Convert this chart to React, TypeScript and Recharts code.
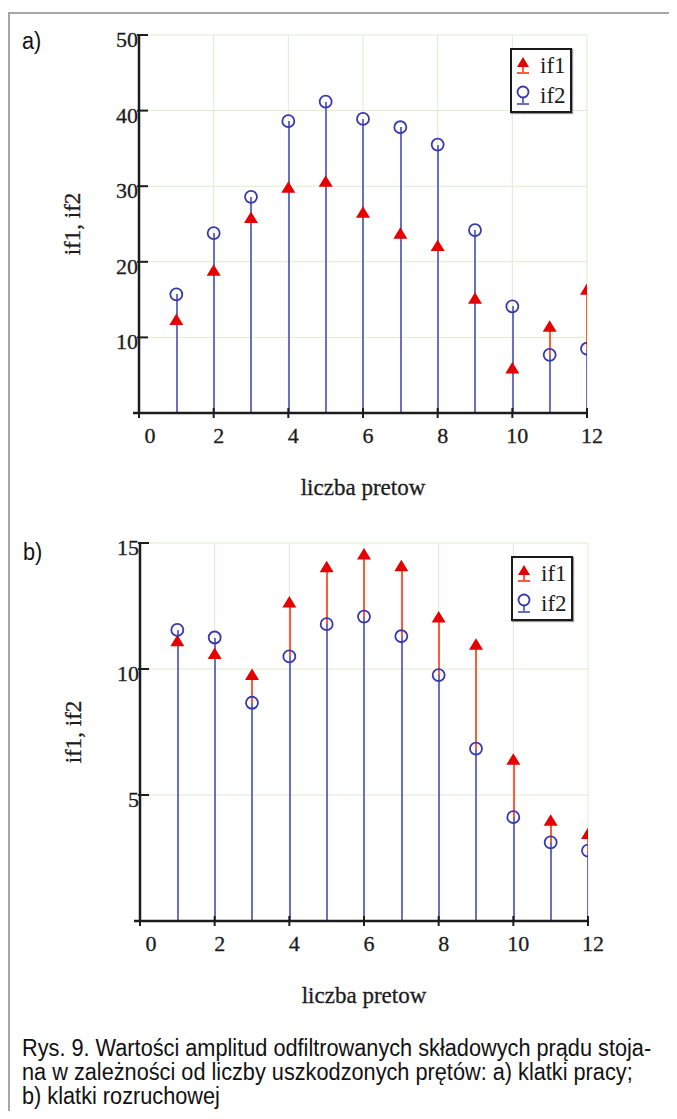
import React from "react";
import {
  ComposedChart,
  Bar,
  Scatter,
  XAxis,
  YAxis,
  CartesianGrid,
  Legend,
  Label,
} from "recharts";

// liczba uszkodzonych pretow
const bars = [1, 2, 3, 4, 5, 6, 7, 8, 9, 10, 11, 12];

// a) klatka pracy
const workIf1 = [12.3, 18.8, 25.8, 29.8, 30.6, 26.5, 23.7, 22.1, 15.1, 5.9, 11.4, 16.3];
const workIf2 = [15.7, 23.8, 28.6, 38.6, 41.2, 38.9, 37.8, 35.5, 24.2, 14.1, 7.7, 8.5];

// b) klatka rozruchowa
const startIf1 = [11.1, 10.6, 9.76, 12.64, 14.04, 14.54, 14.08, 12.04, 10.96, 6.4, 3.98, 3.45];
const startIf2 = [11.55, 11.25, 8.66, 10.5, 11.78, 12.08, 11.3, 9.76, 6.84, 4.12, 3.12, 2.79];

const xTicks = [0, 2, 4, 6, 8, 10, 12];
const workYTicks = [10, 20, 30, 40, 50];
const startYTicks = [5, 10, 15];

const captionLines = [
  "Rys. 9. Wartości amplitud odfiltrowanych składowych prądu stoja-",
  "na w zależności od liczby uszkodzonych prętów: a) klatki pracy;",
  "b) klatki rozruchowej",
];

const toRows = (a: number[], b: number[]) =>
  bars.map((x, i) => ({ x, if1: a[i], if2: b[i] }));

const SERIF = "'Liberation Serif', 'Times New Roman', serif";
const SANS = "'Liberation Sans', Arial, sans-serif";
const INK = "#1c1c1c";
const RED = "#e60000";
const RED_STEM = "#ff5a3c";
const BLUE = "#3838ae";
const BLUE_STEM = "#6b6fc3";
const GRID = "#dcedcf";

function XTick(props: any) {
  const { x, y, payload } = props;
  const v = payload.value;
  return (
    <g>
      <line x1={x} x2={x} y1={y - 5} y2={y + 5} stroke={INK} strokeWidth={2} />
      {v === 0 && <line x1={x - 6} x2={x} y1={y} y2={y} stroke={INK} strokeWidth={2.5} />}
      <text
        x={x + (v === 0 ? 11 : 5)}
        y={y + 30}
        textAnchor="middle"
        fontFamily={SERIF}
        fontSize={22}
        fill={INK}
        stroke={INK}
        strokeWidth={0.3}
      >
        {v}
      </text>
    </g>
  );
}

function YTick(props: any) {
  const { x, y, payload } = props;
  return (
    <g>
      <line x1={x - 2} x2={x + 9} y1={y} y2={y} stroke={INK} strokeWidth={2} />
      <text
        x={x - 1}
        y={y + 12}
        textAnchor="end"
        fontFamily={SERIF}
        fontSize={22}
        fill={INK}
        stroke={INK}
        strokeWidth={0.3}
      >
        {payload.value}
      </text>
    </g>
  );
}

const Triangle = (p: any) => (
  <polygon
    points={`${p.cx},${p.cy - 6.5} ${p.cx - 7},${p.cy + 5} ${p.cx + 7},${p.cy + 5}`}
    fill={RED}
  />
);

const Ring = (p: any) => (
  <circle cx={p.cx} cy={p.cy} r={6} fill="none" stroke={BLUE} strokeWidth={1.8} />
);

const YTitle = (p: any) => {
  const vb = p.viewBox;
  const cx = vb.x + 40;
  const cy = vb.y + vb.height / 2;
  return (
    <text
      x={cx}
      y={cy}
      transform={`rotate(-90 ${cx} ${cy})`}
      textAnchor="middle"
      fontFamily={SERIF}
      fontSize={23}
      fill={INK}
      stroke={INK}
      strokeWidth={0.3}
    >
      if1, if2
    </text>
  );
};

const XTitle = (p: any) => {
  const vb = p.viewBox;
  return (
    <text
      x={vb.x + vb.width / 2}
      y={vb.y + 82}
      textAnchor="middle"
      fontFamily={SERIF}
      fontSize={23}
      fill={INK}
      stroke={INK}
      strokeWidth={0.3}
    >
      liczba pretow
    </text>
  );
};

function StemLegend() {
  const row = (name: string, marker: React.ReactNode) => (
    <div style={{ display: "flex", alignItems: "center", height: 30 }}>
      <svg width={20} height={26} style={{ marginLeft: 2 }}>
        {marker}
      </svg>
      <span style={{ marginLeft: 6, lineHeight: "26px" }}>{name}</span>
    </div>
  );
  return (
    <div
      style={{
        border: "2px solid #1a1a1a",
        width: 62,
        height: 65,
        boxSizing: "border-box",
        background: "#fff",
        boxShadow: "1px 1px 1px #999",
        fontFamily: SERIF,
        fontSize: 23,
        color: INK,
        paddingTop: 1,
      }}
    >
      {row(
        "if1",
        <g>
          <line x1={9} x2={9} y1={8} y2={20} stroke={RED_STEM} strokeWidth={2} />
          <line x1={3} x2={15} y1={20} y2={20} stroke={RED_STEM} strokeWidth={2} />
          <polygon points="9,4 3,14 15,14" fill={RED} />
        </g>
      )}
      {row(
        "if2",
        <g>
          <line x1={9} x2={9} y1={14} y2={21} stroke={BLUE_STEM} strokeWidth={2} />
          <line x1={3} x2={15} y1={21} y2={21} stroke={BLUE_STEM} strokeWidth={2} />
          <circle cx={9} cy={9} r={5.5} fill="none" stroke={BLUE} strokeWidth={1.8} />
        </g>
      )}
    </div>
  );
}

function StemChart(props: {
  rows: { x: number; if1: number; if2: number }[];
  yMax: number;
  yTicks: number[];
}) {
  return (
    <ComposedChart
      width={566}
      height={483}
      data={props.rows}
      margin={{ top: 15, right: 19, left: 0, bottom: 0 }}
      barGap={-2}
    >
      <CartesianGrid stroke={GRID} strokeWidth={1} />
      <XAxis
        type="number"
        dataKey="x"
        domain={[0, 12]}
        ticks={xTicks}
        interval={0}
        allowDataOverflow
        height={90}
        tickSize={0}
        tickMargin={0}
        tickLine={false}
        tick={<XTick />}
        axisLine={{ stroke: INK, strokeWidth: 2.5 }}
      >
        <Label content={XTitle} />
      </XAxis>
      <YAxis
        type="number"
        domain={[0, props.yMax]}
        ticks={props.yTicks}
        interval={0}
        allowDataOverflow
        width={99}
        tickSize={0}
        tickMargin={0}
        tickLine={false}
        tick={<YTick />}
        axisLine={{ stroke: INK, strokeWidth: 2.5 }}
      >
        <Label content={YTitle} />
      </YAxis>
      <Legend
        layout="vertical"
        align="center"
        verticalAlign="middle"
        content={<StemLegend />}
        wrapperStyle={{ left: 470, top: 28, width: 66 }}
      />
      <Bar
        dataKey="if1"
        barSize={2}
        fill={RED_STEM}
        shapeRendering="crispEdges"
        isAnimationActive={false}
      />
      <Bar
        dataKey="if2"
        barSize={2}
        fill={BLUE_STEM}
        shapeRendering="crispEdges"
        isAnimationActive={false}
      />
      <Scatter dataKey="if1" shape={Triangle} isAnimationActive={false} />
      <Scatter dataKey="if2" shape={Ring} isAnimationActive={false} />
    </ComposedChart>
  );
}

export default function App() {
  const tag: React.CSSProperties = {
    position: "absolute",
    fontFamily: SANS,
    fontSize: 23.5,
    color: "#111",
    lineHeight: "24px",
    whiteSpace: "nowrap",
    transform: "scaleX(0.924)",
    transformOrigin: "0 0",
  };
  return (
    <div style={{ position: "relative", width: 669, height: 1111, marginBottom: -8 }}>
      <div
        style={{
          position: "absolute",
          left: 0,
          top: 4,
          width: 669,
          height: 1107,
          boxSizing: "border-box",
          borderLeft: "2px solid #a6a6a6",
          borderTop: "2px solid #a6a6a6",
        }}
      />
      <div style={{ ...tag, left: 14, top: 21 }}>a)</div>
      <div style={{ ...tag, left: 15, top: 532 }}>b)</div>

      <div style={{ position: "absolute", left: 32, top: 12 }}>
        <StemChart rows={toRows(workIf1, workIf2)} yMax={50} yTicks={workYTicks} />
      </div>
      <div style={{ position: "absolute", left: 33, top: 520 }}>
        <StemChart rows={toRows(startIf1, startIf2)} yMax={15} yTicks={startYTicks} />
      </div>

      {captionLines.map((line, i) => (
        <div key={i} style={{ ...tag, left: 14, top: 1028 + i * 24 }}>
          {line}
        </div>
      ))}
    </div>
  );
}
